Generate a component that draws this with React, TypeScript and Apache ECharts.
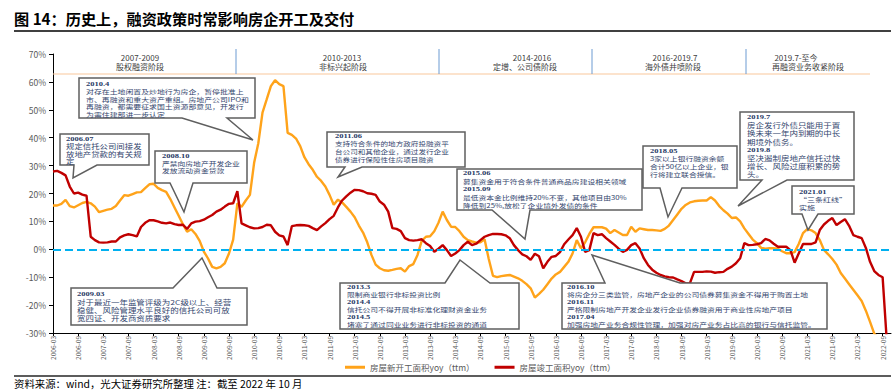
import React, { useEffect, useRef } from "react";
import * as echarts from "echarts";

// ---------- categories (monthly, 2006-03 .. 2022-11) ----------
const START_YEAR = 2006;
const START_MONTH = 3;
const MONTH_COUNT = 201;
const months: string[] = [];
for (let i = 0; i < MONTH_COUNT; i++) {
  const t = START_MONTH - 1 + i;
  const y = START_YEAR + Math.floor(t / 12);
  const m = (t % 12) + 1;
  months.push(`${y}-${String(m).padStart(2, "0")}`);
}

// ---------- series values (%) ----------
const newStartsYoy: (number | null)[] = [
  // 2006 Mar-Dec
  15.7, 15.7, 16.3, 17.7, 15.5, 15.0, 15.8, 16.6, 17.0, 16.5,
  // 2007
  15.3, 13.3, 13.8, 14.2, 14.5, 15.5, 17.5, 19.4, 19.2, 19.8, 20.4, 20.5,
  // 2008
  21.9, 23.3, 23.5, 22.0, 21.2, 20.6, 18.0, 15.0, 12.0, 9.0, 6.3, 7.2,
  // 2009
  5.5, 3.0, -0.8, -3.3, -6.3, -6.8, -6.3, -5.0, -1.5, 3.5, 16.5, 15.2,
  // 2010
  17.5, 19.5, 31, 38, 49, 53.7, 58.5, 60.6, 59.2, 58.5, 41.7, 41,
  // 2011
  39.7, 37, 33, 30.5, 28.5, 26, 24.5, 22.5, 19.5, 16.0, 17.8, 16.8,
  // 2012
  15.2, 13.5, 11.5, 8.5, 6.0, 2.5, -2.0, -5.5, -6.8, -7.5, -7.7, -7.4,
  // 2013
  -7.0, -6.8, -8.0, -6.0, -5.3, -2.0, 3.0, 4.5, 4.7, 6.5, 9.5, 13.5,
  // 2014
  10.5, 8.1, 8.0, 6.5, 4.5, 3.3, 2.8, 2.4, 2.5, 3.6, -3.5, -9.5,
  // 2015
  -10.0, -9.6, -9.4, -9.2, -9.8, -10.4, -11.3, -12.5, -14.0, -17.3, -16.0, -14.5,
  // 2016
  -12.5, -10.5, -9.0, -8.1, -6.3, -4.5, -1.5, 3.3, 0.4, 2.5, 5.5, 7.9,
  // 2017
  7.9, 7.9, 7.4, 5.8, 6.9, 6.0, 5.1, 5.1, 8.1, 6.3, 7.5, 7.2,
  // 2018
  6.9, 6.9, 6.8, 6.6, 7.3, 8.5, 10.5, 12.5, 14.5, 15.9, 16.8, 17.2,
  // 2019
  17.4, 17.5, 17.5, 18.7, 17.5, 15.5, 14.0, 12.8, 11.2, 11.4, 10.0, 7.5,
  // 2020
  5.5, 3.5, 2.2, 0.5, 0.2, 0.4, 0.4, 0.2, -0.7, -1.4, -1.4, -1.0,
  // 2021
  2.0, 5.8, 7.2, 6.8, 5.8, 3.3, -0.2, -1.8, -3.5, -5.5, -8.5, -10.5,
  // 2022
  -12.5, -14.5, -16.5, -18.5, -22, -26, -30.2, -32, -34, -36, null,
];

const completionsYoy: (number | null)[] = [
  // 2006 Mar-Dec
  27.9, 28.1, 27.4, 26.5, 22.5, 20.0, 20.3, 19.6, 19.2, 4.5,
  // 2007
  3.3, 2.5, 2.4, 2.5, 2.8, 2.8, 4.3, 5.0, 5.4, 5.1, 4.6, 8.0,
  // 2008
  9.5, 10.4, 10.4, 10.0, 9.5, 9.3, 9.6, 9.0, 8.7, 8.8, 7.3, 9.3,
  // 2009
  9.9, 10.1, 10.6, 11.5, 12.3, 13.5, 14.2, 15.3, 16.3, 16.5, 20.8, 9.3,
  // 2010
  8.6, 7.9, 7.5, 7.6, 8.0, 8.8, 8.6, 6.3, 5.0, 4.6, 1.5, 8.3,
  // 2011
  8.6, 8.7, 8.6, 8.4, 7.6, 6.9, 8.2, 9.4, 10.8, 12.0, 15.0, 17.5,
  // 2012
  19.0, 20.3, 21.3, 21.2, 20.8, 20.1, 19.9, 19.5, 17.1, 16.0, 13.5, 7.6,
  // 2013
  7.3, 6.5, 4.0, 3.3, 3.1, 3.3, 3.6, 2.2, 1.2, -0.9, 0.2, 1.5,
  // 2014
  -0.3, -2.4, -1.5, -0.3, 1.5, 2.7, 1.5, 2.0, 3.3, 4.5, 5.1, 5.5,
  // 2015
  5.5, 5.4, 5.0, 4.0, 1.5, -0.3, -1.8, -2.5, -3.8, -1.6, -2.5, -6.8,
  // 2016
  -4.5, -2.7, -2.4, -1.0, 1.8, 3.5, 5.1, 7.6, 4.5, -0.9, -0.3, 5.8,
  // 2017
  5.1, 5.4, 4.0, 2.8, 1.6, 0.2, -0.9, -0.2, 1.5, 2.2, 0.3, -3.2,
  // 2018
  -5.6, -7.3, -8.4, -9.2, -9.7, -10.0, -10.1, -10.8, -11.4, -12.2, -12.2, -8.1,
  // 2019
  -8.1, -8.1, -7.9, -8.0, -8.4, -8.2, -8.1, -7.0, -6.2, -5.0, -3.2, 2.2,
  // 2020
  1.5, 1.6, 1.8, 2.2, 3.7, 3.2, 2.0, 0.9, 0.9, 0.9, -0.3, -4.8,
  // 2021
  -1.4, 1.9, 1.9, 1.9, 2.5, 6.9, 8.9, 10.2, 11.2, 8.7, 9.8, 10.8,
  // 2022
  8.4, 5.1, 4.5, 4.0, 0.5, -4.5, -7.8, -9.2, -10, -33, null,
];

const seriesNames = ["房屋新开工面积yoy（ttm）", "房屋竣工面积yoy（ttm）"];
const yTicks = { min: -30, max: 70, interval: 10 };

// ---------- texts ----------
const titleText = "图 14：历史上，融资政策时常影响房企开工及交付";
const sourceText = "资料来源：wind，光大证券研究所整理 注：截至 2022 年 10 月";
const periodTop = ["2007-2009", "2010-2013", "2014-2016", "2016-2019.7", "2019.7-至今"];
const periodBottom = ["股权融资阶段", "非标兴起阶段", "定增、公司债阶段", "海外债井喷阶段", "再融资业务收紧阶段"];

const noteA = ["2006.07", "规定信托公司间接发", "放地产贷款的有关规", "定"];
const noteB = ["2010.4", "对存在土地闲置及炒地行为房企，暂停批准上", "市、再融资和重大资产重组。房地产公司IPO和", "再融资，都需要征求国土资源部意见，开发行", "为需住建部进一步认定"];
const noteC = ["2008.10", "严禁向房地产开发企业", "发放流动资金贷款"];
const noteD = ["2009.03", "对于最近一年监管评级为2C级以上、经营", "稳健、风险管理水平良好的信托公司可放", "宽四证、开发商资质要求"];
const noteE = ["2011.06", "支持符合条件的地方政府投融资平", "台公司和其他企业，通过发行企业", "债券进行保障性住房项目融资"];
const noteF = ["2015.06", "募集资金用于符合条件普通商品房建设相关领域", "2015.09", "最低资本金比例维持20%不变，其他项目由30%", "降低到25%,放松了企业境外发债的条件"];
const noteG = ["2018.05", "3家以上银行融资余额", "合计50亿以上企业，银", "行将建立联合授信。"];
const noteH = ["2019.7", "房企发行外债只能用于置", "换未来一年内到期的中长", "期境外债务。", "2019.8", "坚决遏制房地产信托过快", "增长、风险过度积累的势", "头。"];
const noteI = ["2021.01", "“三条红线”", "实施"];
const noteJ = ["2013.3", "限制商业银行非标投资比例", "2014.4", "信托公司不得开展非标准化理财资金业务", "2014.5", "堵塞了通过同业业务进行非标投资的通道"];
const noteK = ["2016.10", "将房企分三类监管，房地产企业的公司债券募集资金不得用于购置土地", "2016.11", "严格限制房地产开发企业发行企业债券融资用于商业性房地产项目", "2017.04", "加强房地产业务合规性管理，加强对房产业务占比高的银行与信托监管。"];

// ---------- layout (pixels) ----------
type Note = {
  lines: string[];
  box: [number, number, number, number];
  ptr: "top" | "bottom";
  base: [number, number];
  tip: [number, number];
  text: [number, number];
  lh: number;
  fs: number;
};
const notes: Note[] = [
  { lines: noteA, box: [60, 134, 149, 165], ptr: "bottom", base: [74, 97], tip: [73, 178], text: [66, 139], lh: 7.3, fs: 8.4 },
  { lines: noteB, box: [79, 78, 255, 118], ptr: "bottom", base: [182, 227], tip: [253, 140], text: [86, 84], lh: 7.5, fs: 7.9 },
  { lines: noteC, box: [155, 151, 247, 183], ptr: "bottom", base: [170, 193], tip: [184, 212], text: [162, 156], lh: 7.0, fs: 7.8 },
  { lines: noteD, box: [71, 288, 247, 325], ptr: "top", base: [173, 217], tip: [202, 258], text: [77, 294], lh: 8, fs: 8.5 },
  { lines: noteE, box: [327, 132, 465, 167], ptr: "bottom", base: [345, 362], tip: [338, 177], text: [335, 136], lh: 7.7, fs: 7.6 },
  { lines: noteF, box: [457, 169, 642, 210], ptr: "bottom", base: [492, 530], tip: [525, 239], text: [463, 173], lh: 8, fs: 7.8 },
  { lines: noteG, box: [643, 146, 737, 188], ptr: "bottom", base: [660, 682], tip: [668, 217], text: [650, 151], lh: 7.8, fs: 7.8 },
  { lines: noteH, box: [740, 112, 854, 180], ptr: "bottom", base: [762, 787], tip: [738, 206], text: [747, 117], lh: 8.2, fs: 8.5 },
  { lines: noteI, box: [792, 186, 854, 214], ptr: "bottom", base: [802, 818], tip: [808, 230], text: [799, 192], lh: 7.8, fs: 8 },
  { lines: noteJ, box: [340, 283, 519, 329], ptr: "top", base: [445, 490], tip: [460, 260], text: [347, 287.3], lh: 7.4, fs: 7.8 },
  { lines: noteK, box: [562, 283, 827, 329], ptr: "top", base: [605, 680], tip: [592, 255], text: [567, 287.3], lh: 7.4, fs: 7.8 },
];

const periodCenters: [number, number][] = [
  [140, 140], [342, 343], [532, 525], [675, 673], [796, 808],
];
const periodSeparators = [236, 439, 592, 746];

const CJK = "'Noto Sans CJK SC', 'Noto Sans', sans-serif";
const ORANGE = "#FFA31A";
const RED = "#C00000";
const NOTE_SCALE_Y = 0.76;

function calloutPoints(n: Note): number[][] {
  const [x0, y0, x1, y1] = n.box;
  const [b1, b2] = n.base;
  const [tx, ty] = n.tip;
  if (n.ptr === "bottom") {
    return [[x0, y0], [x1, y0], [x1, y1], [b2, y1], [tx, ty], [b1, y1], [x0, y1]];
  }
  return [[x0, y0], [b1, y0], [tx, ty], [b2, y0], [x1, y0], [x1, y1], [x0, y1]];
}

function buildGraphics(): any[] {
  const g: any[] = [];
  // title
  g.push({
    type: "text", x: 14, y: 18, z: 50,
    style: { text: titleText, fontSize: 15.2, fontWeight: "bold", fontFamily: CJK, fill: "#000", verticalAlign: "middle" },
  });
  g.push({ type: "line", z: 50, shape: { x1: 14, y1: 31, x2: 891, y2: 31 }, style: { stroke: "#404040", lineWidth: 2 } });
  // footer
  g.push({ type: "line", z: 50, shape: { x1: 14, y1: 376, x2: 891, y2: 376 }, style: { stroke: "#262626", lineWidth: 1.5 } });
  g.push({
    type: "text", x: 14, y: 383, z: 50,
    style: { text: sourceText, fontSize: 10.4, fontFamily: CJK, fill: "#000", verticalAlign: "middle" },
  });
  // period header
  g.push({ type: "line", z: 40, shape: { x1: 53, y1: 74, x2: 870, y2: 74 }, style: { stroke: "#F9C89B", lineWidth: 1.2 } });
  periodSeparators.forEach((sx) => {
    g.push({ type: "line", z: 40, shape: { x1: sx, y1: 49, x2: sx, y2: 74 }, style: { stroke: "#6C9BD2", lineWidth: 1 } });
  });
  periodTop.forEach((t, i) => {
    g.push({
      type: "text", x: periodCenters[i][0], y: 57.5, z: 40,
      style: { text: t, fontSize: 8, fontFamily: CJK, fill: "#404040", align: "center", verticalAlign: "middle" },
    });
    g.push({
      type: "text", x: periodCenters[i][1], y: 66.8, z: 40,
      style: { text: periodBottom[i], fontSize: 8, fontFamily: CJK, fill: "#404040", align: "center", verticalAlign: "middle" },
    });
  });
  // callouts
  notes.forEach((n) => {
    g.push({
      type: "polygon", z: 60,
      shape: { points: calloutPoints(n) },
      style: { fill: "#fff", stroke: "#5F5F5F", lineWidth: 1.5 },
    });
    n.lines.forEach((l, i) => {
      const isDate = /^\d{4}\.\d+$/.test(l);
      g.push({
        type: "text", z: 61,
        x: n.text[0], y: n.text[1] + i * n.lh,
        scaleY: NOTE_SCALE_Y,
        style: {
          text: l,
          align: "left",
          verticalAlign: "middle",
          fontFamily: isDate ? "'Liberation Serif', serif" : CJK,
          fontWeight: isDate ? "bold" : "normal",
          fontSize: isDate ? 8.5 : n.fs,
          fill: isDate ? "#1F3864" : "#34466E",
        },
      });
    });
  });
  return g;
}

export default function App() {
  const ref = useRef<HTMLDivElement>(null);
  useEffect(() => {
    if (!ref.current) return;
    const chart = echarts.init(ref.current, undefined, { renderer: "svg" });
    const every6 = (idx: number) => idx % 6 === 0;
    chart.setOption({
      animation: false,
      backgroundColor: "#fff",
      grid: { left: 53, right: 3, top: 54, bottom: 57, containLabel: false },
      xAxis: {
        type: "category",
        data: months,
        boundaryGap: false,
        axisLine: { onZero: false, lineStyle: { color: "#000", width: 1 } },
        axisTick: { interval: every6, length: 3, lineStyle: { color: "#000" } },
        axisLabel: { interval: every6, rotate: 90, fontSize: 6.5, color: "#595959", margin: 3, fontFamily: CJK },
        splitLine: { show: false },
      },
      yAxis: {
        type: "value",
        min: yTicks.min,
        max: yTicks.max,
        interval: yTicks.interval,
        axisLine: { show: true, lineStyle: { color: "#000", width: 1 } },
        axisTick: { show: true, length: 4, lineStyle: { color: "#000" } },
        axisLabel: { formatter: "{value}%", fontSize: 8.5, color: "#595959", margin: 7, fontFamily: CJK },
        splitLine: { show: false },
      },
      legend: {
        data: seriesNames,
        left: 340,
        top: 358,
        icon: "rect",
        itemWidth: 20,
        itemHeight: 3,
        itemGap: 20,
        textStyle: { fontSize: 8.5, color: "#595959", fontFamily: CJK },
      },
      series: [
        {
          name: seriesNames[0],
          type: "line",
          data: newStartsYoy,
          showSymbol: false,
          symbol: "none",
          clip: true,
          color: ORANGE,
          lineStyle: { color: ORANGE, width: 2.4 },
          z: 3,
          markLine: {
            silent: true,
            symbol: "none",
            label: { show: false },
            lineStyle: { color: "#00B0F0", width: 2, type: [8, 4] },
            data: [{ yAxis: 0 }],
          },
        },
        {
          name: seriesNames[1],
          type: "line",
          data: completionsYoy,
          showSymbol: false,
          symbol: "none",
          clip: true,
          color: RED,
          lineStyle: { color: RED, width: 2.4 },
          z: 4,
        },
      ],
      graphic: buildGraphics(),
    });
    return () => chart.dispose();
  }, []);
  return (
    <div
      ref={ref}
      style={{ position: "absolute", left: 0, top: 0, width: 894, height: 390, background: "#fff" }}
    />
  );
}
